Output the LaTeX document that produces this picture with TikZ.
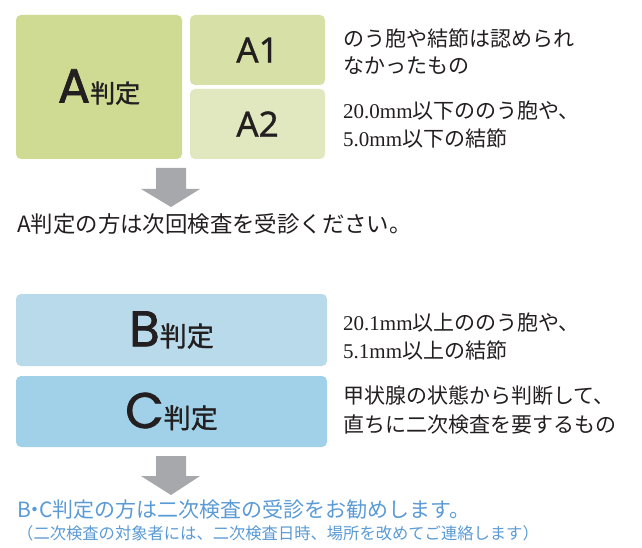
\documentclass[tikz,border=0pt]{standalone}
\usepackage{fontspec}
\setmainfont{Noto Sans CJK JP}
\newfontfamily\jp{Noto Sans CJK JP}
\newfontfamily\jpmed{Noto Sans CJK JP}[FakeBold=1.2]
\newfontfamily\geo{Poppins}[FakeBold=1.5]
\newfontfamily\hum{Noto Sans}[FakeBold=0.8]
\newfontfamily\ser{Liberation Serif}
\definecolor{abig}{HTML}{CFDA93}
\definecolor{aone}{HTML}{D7E0A7}
\definecolor{atwo}{HTML}{E1E7BE}
\definecolor{bbox}{HTML}{B9DAEA}
\definecolor{cbox}{HTML}{A1D1E8}
\definecolor{arrowgray}{HTML}{A7A8AB}
\definecolor{ink}{HTML}{231F20}
\definecolor{noteblue}{HTML}{5B9BD5}
\tikzset{
  judge/.style={draw=none, rounded corners=5pt, inner sep=0pt, text=ink},
  desc/.style={inner sep=0pt, text=ink, font=\jp\fontsize{21}{21}\selectfont},
  bigarrow/.style={fill=arrowgray, draw=none},
  lead/.style={inner sep=0pt, text=ink, font=\jp\fontsize{22.4}{22.4}\selectfont},
  bluelead/.style={inner sep=0pt, text=noteblue, font=\jp\fontsize{21}{21}\selectfont},
  bluenote/.style={inner sep=0pt, text=noteblue, font=\jp\fontsize{16.3}{16.3}\selectfont}
}
\begin{document}
\begin{tikzpicture}[x=1pt,y=-1pt]
\useasboundingbox[fill=white] (0,0) rectangle (642,548);
% A boxes
\node[judge, fill=abig, minimum width=166pt, minimum height=144pt] (A) at (99,87)
  {{\geo\fontsize{48}{48}\selectfont A}{\jpmed\fontsize{25}{25}\selectfont 判定}};
\node[judge, fill=aone, minimum width=135pt, minimum height=70pt] (A1) at (257.5,50)
  {\hum\fontsize{35}{35}\selectfont A1};
\node[judge, fill=atwo, minimum width=135pt, minimum height=70pt] (A2) at (257.5,124)
  {\hum\fontsize{35}{35}\selectfont A2};
% A descriptions
\node[desc, anchor=base west] (a1a) at (343,46.5) {のう胞や結節は認められ};
\node[desc, anchor=base west] (a1b) at (343,74) {なかったもの};
\node[desc, anchor=base west] (a2a) at (343,119) {{\ser 20.0mm}以下ののう胞や、};
\node[desc, anchor=base west] (a2b) at (343,147) {{\ser 5.0mm}以下の結節};
% arrow 1
\fill[bigarrow] (156,168) -- (186,168) -- (186,189) -- (200,189) -- (171,207) -- (141,189) -- (156,189) -- cycle;
\node[lead, anchor=base west] (alead) at (17,232) {A判定の方は次回検査を受診ください。};
% B, C boxes
\node[judge, fill=bbox, minimum width=311pt, minimum height=72pt] (B) at (171.5,330)
  {{\geo\fontsize{50}{50}\selectfont B}{\jpmed\fontsize{27}{27}\selectfont 判定}};
\node[judge, fill=cbox, minimum width=311pt, minimum height=71pt] (C) at (171.5,411.5)
  {{\geo\fontsize{50}{50}\selectfont C}{\jpmed\fontsize{27}{27}\selectfont 判定}};
\node[desc, anchor=base west] (ba) at (343,330.5) {{\ser 20.1mm}以上ののう胞や、};
\node[desc, anchor=base west] (bb) at (343,358.5) {{\ser 5.1mm}以上の結節};
\node[desc, anchor=base west] (ca) at (343,403.5) {甲状腺の状態から判断して、};
\node[desc, anchor=base west] (cb) at (343,432) {直ちに二次検査を要するもの};
% arrow 2
\fill[bigarrow] (156,456) -- (186,456) -- (186,476) -- (200,476) -- (171,495) -- (141,476) -- (156,476) -- cycle;
\node[bluelead, anchor=base west] (bclead) at (17,517) {B\kern-0.3em・\kern-0.3em C判定の方は二次検査の受診をお勧めします。};
\node[bluenote, anchor=base west] (bcnote) at (17,539) {（二次検査の対象者には、二次検査日時、場所を改めてご連絡します）};
\end{tikzpicture}
\end{document}
